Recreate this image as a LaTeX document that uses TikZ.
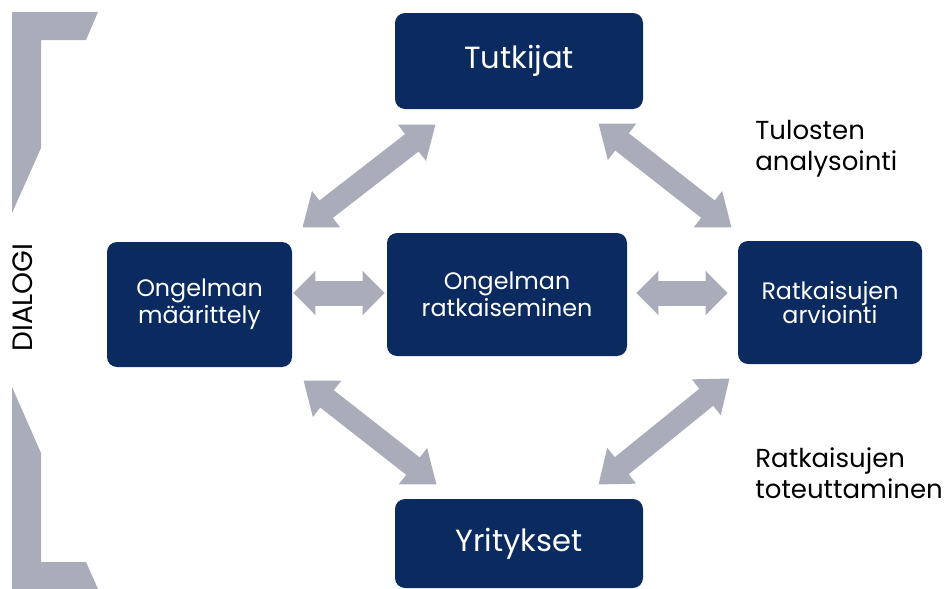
\documentclass[tikz,border=0pt]{standalone}
\usepackage{fontspec}
\setmainfont{Poppins}
\usepackage{tikz}
\usetikzlibrary{arrows.meta,calc}
\definecolor{navy}{RGB}{10,42,96}
\definecolor{linkgray}{RGB}{170,172,186}

\begin{document}
\begin{tikzpicture}[x=0.5pt,y=-0.5pt,
  box/.style={fill=navy, text=white, rounded corners=5pt, align=center, inner sep=0pt},
  big/.style={font=\fontsize{15.3}{18}\selectfont},
  small/.style={font=\fontsize{11.9}{12.2}\selectfont},
  side/.style={font=\fontsize{13}{15.5}\selectfont, align=left, anchor=west, inner sep=0pt},
  link/.style={draw=linkgray, line width=11pt, {Triangle[length=15pt,width=22pt]}-{Triangle[length=15pt,width=22pt]}},
  hlink/.style={draw=linkgray, line width=12.5pt, {Triangle[length=11pt,width=21.5pt]}-{Triangle[length=11pt,width=21.5pt]}}]
\useasboundingbox (0,0) rectangle (950,589);
% boxes
\node [box, big, minimum width=124pt, minimum height=48pt] (tutkijat) at (519,61) {Tutkijat};
\node [box, big, minimum width=124pt, minimum height=44.5pt] (yritykset) at (519,543.5) {Yritykset};
\node [box, small, minimum width=92.5pt, minimum height=62.5pt] (maarittely) at (199.5,304.5) {Ongelman\\määrittely};
\node [box, small, minimum width=120pt, minimum height=61.5pt] (ratkaiseminen) at (507,294.5) {Ongelman\\ratkaiseminen};
\node [box, small, minimum width=92pt, minimum height=61.5pt] (arviointi) at (830,302.5) {Ratkaisujen\\arviointi};
% side texts
\node [side] (tulosten) at (755,149) {Tulosten\\analysointi};
\node [side] (toteuttaminen) at (755,473) {Ratkaisujen\\toteuttaminen};
\node [rotate=90, font=\fontsize{14}{15}\selectfont, inner sep=0pt] (dialogi) at (23,297.5) {DIALOGI};
% bracket
\fill [linkgray] (12,12) -- (98,12) -- (86,40) -- (41,40) -- (41,148) -- (12,213) -- cycle;
\fill [linkgray] (12,387) -- (41,453) -- (41,562) -- (86,562) -- (98,589) -- (12,589) -- cycle;
% arrows
\draw [link] ([shift={(10,-14)}]maarittely.north east) -- ([shift={(41,15)}]tutkijat.south west);
\draw [link] ([shift={(-45,14)}]tutkijat.south east) -- ([shift={(-6,-13)}]arviointi.north west);
\draw [link] ([shift={(11,13)}]maarittely.south east) -- ([shift={(42,-14)}]yritykset.north west);
\draw [link] ([shift={(-8,14)}]arviointi.south west) -- ([shift={(-45,-14)}]yritykset.north east);
\draw [hlink] ($(maarittely.east |- ratkaiseminen.west)+(1,-1.5)$) -- ($(ratkaiseminen.west)+(-2,-1.5)$);
\draw [hlink] ($(ratkaiseminen.east)+(9,-1.5)$) -- ($(arviointi.west |- ratkaiseminen.east)+(-10,-1.5)$);
\end{tikzpicture}
\end{document}
